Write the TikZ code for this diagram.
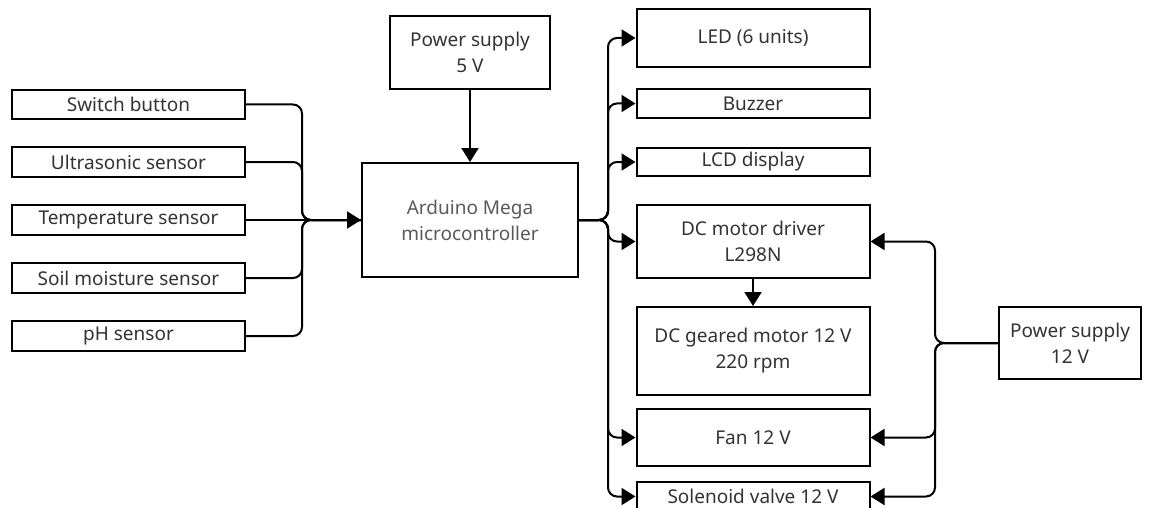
\documentclass[tikz,border=0pt]{standalone}
\usepackage{fontspec}
\setmainfont{Noto Sans}
\usetikzlibrary{arrows.meta}
\definecolor{txt}{HTML}{333333}
\definecolor{txtl}{HTML}{5A5A5A}
\begin{document}
\begin{tikzpicture}[x=1pt,y=-1pt,
  box/.style={draw, line width=2pt, inner sep=0pt, align=center, text=txt,
    font=\fontsize{19}{26}\selectfont},
  conn/.style={line width=2pt, rounded corners=9pt},
  arr/.style={-{Triangle[length=14pt,width=17pt]}}]
\useasboundingbox[fill=white] (0,0) rectangle (1153,508);
% inputs
\node[box, minimum width=233pt, minimum height=29pt] (sw)   at (128.5,104.5) {Switch button};
\node[box, minimum width=233pt, minimum height=30pt] (us)   at (128.5,162) {Ultrasonic sensor};
\node[box, minimum width=233pt, minimum height=30pt] (temp) at (128.5,220) {Temperature sensor};
\node[box, minimum width=233pt, minimum height=30pt] (soil) at (128.5,278) {Soil moisture sensor};
\node[box, minimum width=233pt, minimum height=30pt] (ph)   at (128.5,336) {pH sensor};
% center
\node[box, minimum width=160pt, minimum height=73pt] (ps5) at (470,52.5) {Power supply\\5 V};
\node[box, minimum width=216pt, minimum height=114pt, text=txtl] (ard) at (470,220) {Arduino Mega\\microcontroller};
% outputs
\node[box, minimum width=233pt, minimum height=58pt] (led) at (753,38) {LED (6 units)};
\node[box, minimum width=233pt, minimum height=29pt] (buz) at (753,103.5) {Buzzer};
\node[box, minimum width=233pt, minimum height=28pt] (lcd) at (753,162) {LCD display};
\node[box, minimum width=233pt, minimum height=73pt] (drv) at (753,241.5) {DC motor driver\\L298N};
\node[box, minimum width=233pt, minimum height=88pt] (mot) at (753,351) {DC geared motor 12 V\\220 rpm};
\node[box, minimum width=233pt, minimum height=57pt] (fan) at (753,437.5) {Fan 12 V};
\node[box, minimum width=233pt, minimum height=29pt] (sol) at (753,496.5) {Solenoid valve 12 V};
\node[box, minimum width=142pt, minimum height=72pt] (ps12) at (1070,343) {Power supply\\12 V};
% junctions
\coordinate (lm) at (302,220);
\coordinate (rm) at (608,220);
\coordinate (pm) at (935,343);
% input connectors
\draw[conn] (sw.east) -| (lm) -- (ard.west);
\draw[conn] (us.east) -| (lm) -- (ard.west);
\draw[conn] (soil.east) -| (lm) -- (ard.west);
\draw[conn] (ph.east) -| (lm) -- (ard.west);
\draw[conn,arr] (temp.east) -- (ard.west);
% power 5 V
\draw[conn,arr] (ps5.south) -- (ard.north);
% outputs
\draw[conn,arr] (ard.east) -- (rm) |- (led.west);
\draw[conn,arr] (ard.east) -- (rm) |- (buz.west);
\draw[conn,arr] (ard.east) -- (rm) |- (lcd.west);
\draw[conn,arr] (ard.east) -- (rm) |- (drv.west);
\draw[conn,arr] (ard.east) -- (rm) |- (fan.west);
\draw[conn,arr] (ard.east) -- (rm) |- (sol.west);
\draw[conn,arr] (drv.south) -- (mot.north);
% power 12 V
\draw[conn,arr] (ps12.west) -- (pm) |- (drv.east);
\draw[conn,arr] (ps12.west) -- (pm) |- (fan.east);
\draw[conn,arr] (ps12.west) -- (pm) |- (sol.east);
\end{tikzpicture}
\end{document}
